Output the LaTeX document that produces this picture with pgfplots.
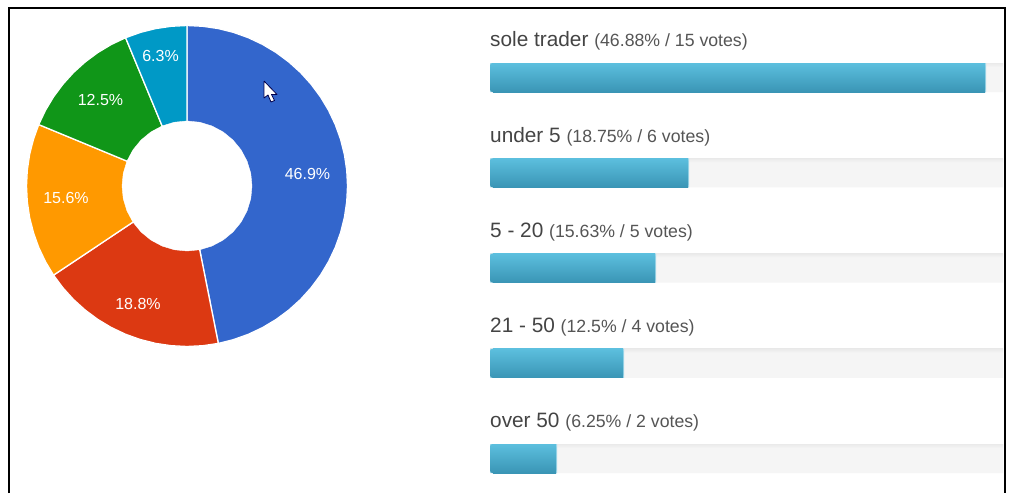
\documentclass[border=0pt]{standalone}
\usepackage{fontspec}
\setmainfont{Liberation Sans}
\usepackage{pgfplots}
\usepackage{pgfplotstable}
\pgfplotsset{compat=1.18}

\definecolor{gblue}{HTML}{3366CC}
\definecolor{gred}{HTML}{DC3912}
\definecolor{gorange}{HTML}{FF9900}
\definecolor{ggreen}{HTML}{109618}
\definecolor{gteal}{HTML}{0099C6}
\definecolor{bartop}{HTML}{5CBFDE}
\definecolor{barbot}{HTML}{3A95B5}
\definecolor{baredge}{HTML}{A9DCEC}
\definecolor{track}{HTML}{F5F5F5}
\definecolor{trackedge}{HTML}{EAEAEA}
\definecolor{lbl}{HTML}{444444}
\definecolor{sub}{HTML}{555555}

% edge = bar end with its 1px light rim
\pgfplotstableread{
row pct edge full
0 46.88 46.98 100
1 18.75 18.85 100
2 15.63 15.73 100
3 12.6 12.7 100
4 6.25 6.35 100
}\votes

\pgfplotsset{
  whole/.style={scale only axis, hide axis, clip=true, width=1010pt, height=493pt,
    at={(0pt,0pt)}, anchor=south west},
  rows/.style={scale only axis, hide axis, clip=true, height=463.1pt, anchor=south west,
    y dir=reverse, ymin=-0.5, ymax=4.362, xmax=48.58},
}
\tikzset{
  wedge/.style={draw=white, line width=1.3pt, line join=round, fill=#1, /pgfplots/data cs=polar},
  pielab/.style={font=\fontsize{16}{16}\selectfont, text=white, anchor=center, inner sep=0pt},
  rowlab/.style={anchor=base west, inner sep=0pt, text=lbl},
}
\newcommand{\rowtext}[3]{\node[rowlab] at (axis cs:490,#1)
  {\fontsize{20.8}{20.8}\selectfont #2 {\fontsize{17.7}{17.7}\selectfont\color{sub}#3}};}
% one plot per bar, else the shading runs over all the bars together
\newcommand{\shadedbar}[3][]{\addplot[draw=none, top color=bartop, bottom color=barbot, #1] coordinates {(#2,#3)};}
\newcommand{\trackshade}[1]{\addplot[draw=none, top color=trackedge, bottom color=track, bar width=4pt, bar shift=12.5pt] coordinates {(100,#1)};}

\begin{document}
\begin{tikzpicture}
% white page
\begin{axis}[whole, xmin=0, xmax=1010, ymin=0, ymax=493]
\addplot[fill=white, draw=none] coordinates {(0,0) (1010,0) (1010,493) (0,493)} \closedcycle;
\end{axis}

% donut, origin at its centre
\begin{axis}[whole, xmin=-187, xmax=823, ymin=-307, ymax=186]
\addplot[wedge=gblue] coordinates {(0,0) (90,160.5) (84.375,160.5) (78.75,160.5) (73.125,160.5) (67.5,160.5) (61.875,160.5) (56.25,160.5) (50.625,160.5) (45,160.5) (39.375,160.5) (33.75,160.5) (28.125,160.5) (22.5,160.5) (16.875,160.5) (11.25,160.5) (5.625,160.5) (0,160.5) (-5.625,160.5) (-11.25,160.5) (-16.875,160.5) (-22.5,160.5) (-28.125,160.5) (-33.75,160.5) (-39.375,160.5) (-45,160.5) (-50.625,160.5) (-56.25,160.5) (-61.875,160.5) (-67.5,160.5) (-73.125,160.5) (-78.75,160.5) (0,0)};
\addplot[wedge=gred] coordinates {(0,0) (-78.75,160.5) (-84.375,160.5) (-90,160.5) (-95.625,160.5) (-101.25,160.5) (-106.875,160.5) (-112.5,160.5) (-118.125,160.5) (-123.75,160.5) (-129.375,160.5) (-135,160.5) (-140.625,160.5) (-146.25,160.5) (0,0)};
\addplot[wedge=gorange] coordinates {(0,0) (-146.25,160.5) (-151.875,160.5) (-157.5,160.5) (-163.125,160.5) (-168.75,160.5) (-174.375,160.5) (-180,160.5) (-185.625,160.5) (-191.25,160.5) (-196.875,160.5) (-202.5,160.5) (0,0)};
\addplot[wedge=ggreen] coordinates {(0,0) (-202.5,160.5) (-208.125,160.5) (-213.75,160.5) (-219.375,160.5) (-225,160.5) (-230.625,160.5) (-236.25,160.5) (-241.875,160.5) (-247.5,160.5) (0,0)};
\addplot[wedge=gteal] coordinates {(0,0) (-247.5,160.5) (-253.125,160.5) (-258.75,160.5) (-264.375,160.5) (-270,160.5) (0,0)};
% hole
\addplot[fill=white, draw=white, data cs=polar] coordinates {(0,65) (11.25,65) (22.5,65) (33.75,65) (45,65) (56.25,65) (67.5,65) (78.75,65) (90,65) (101.25,65) (112.5,65) (123.75,65) (135,65) (146.25,65) (157.5,65) (168.75,65) (180,65) (191.25,65) (202.5,65) (213.75,65) (225,65) (236.25,65) (247.5,65) (258.75,65) (270,65) (281.25,65) (292.5,65) (303.75,65) (315,65) (326.25,65) (337.5,65) (348.75,65) (360,65)};
\end{axis}

% tracks and rounded bars
\begin{axis}[rows, at={(490pt,0pt)}, width=513pt, xmin=0, xbar, bar shift=0pt, bar width=29pt]
\addplot[draw=none, fill=track] table[x=full, y=row] {\votes};
\trackshade{0}
\trackshade{1}
\trackshade{2}
\trackshade{3}
\trackshade{4}
\addplot[draw=none, fill=baredge] table[x=edge, y=row] {\votes};
\shadedbar[rounded corners=2.5pt]{46.88}{0}
\shadedbar[rounded corners=2.5pt]{18.75}{1}
\shadedbar[rounded corners=2.5pt]{15.63}{2}
\shadedbar[rounded corners=2.5pt]{12.6}{3}
\shadedbar[rounded corners=2.5pt]{6.25}{4}
\end{axis}
% same bars, square ends, clipped off the rounded left edge
\begin{axis}[rows, at={(493pt,0pt)}, width=510pt, xmin=0.284, xbar, bar shift=0pt, bar width=29pt]
\shadedbar{46.88}{0}
\shadedbar{18.75}{1}
\shadedbar{15.63}{2}
\shadedbar{12.6}{3}
\shadedbar{6.25}{4}
\end{axis}

% frame, cursor and texts in image pixels
\begin{axis}[whole, xmin=0, xmax=1010, ymin=0, ymax=493, y dir=reverse]
\addplot[black, line width=2pt] coordinates {(9,493) (9,7.5) (1004.5,7.5) (1004.5,493)};
\addplot[fill=white, draw=black!70!blue, line width=0.8pt, line join=round] coordinates {(264,81) (264,98) (268,95) (271,102) (274.5,100.5) (271.5,94.5) (277,94.5) (264,81)};
\node[pielab] at (axis cs:160.5,56) {6.3\%};
\node[pielab] at (axis cs:100.5,99.5) {12.5\%};
\node[pielab] at (axis cs:307.5,174) {46.9\%};
\node[pielab] at (axis cs:66,197.5) {15.6\%};
\node[pielab] at (axis cs:138,304) {18.8\%};
\rowtext{46.8}{sole trader}{(46.88\% / 15 votes)}
\rowtext{142.2}{under 5}{(18.75\% / 6 votes)}
\rowtext{237.2}{5 - 20}{(15.63\% / 5 votes)}
\rowtext{332.7}{21 - 50}{(12.5\% / 4 votes)}
\rowtext{427.7}{over 50}{(6.25\% / 2 votes)}
\end{axis}
\end{tikzpicture}
\end{document}
